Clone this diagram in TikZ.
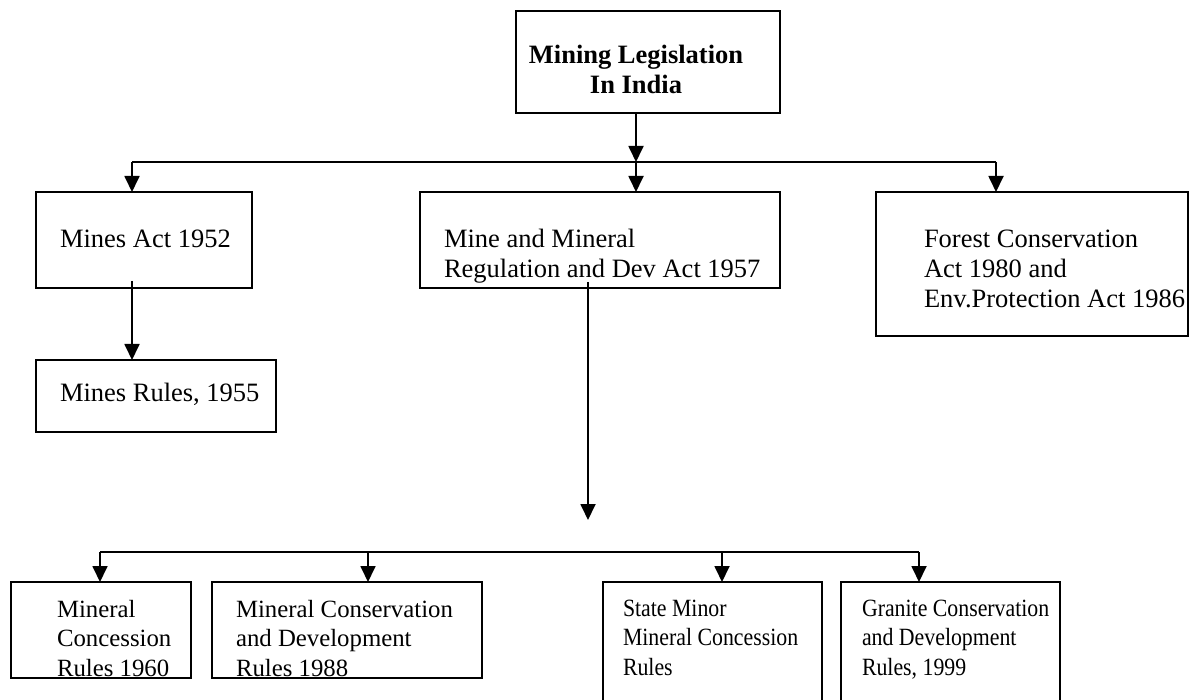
\documentclass[tikz,border=0pt]{standalone}
\usepackage{fontspec}
\setmainfont{Liberation Serif}
\newfontfamily\narrowfont[FakeStretch=0.88]{Liberation Serif}
\usetikzlibrary{arrows.meta}
\begin{document}
\begin{tikzpicture}[x=1pt,y=-1pt,
  box/.style={draw=black,line width=1.8pt,inner sep=0pt,outer sep=0pt,anchor=north west},
  txt/.style={inner sep=0pt,outer sep=0pt,anchor=base west,align=left,font=\fontsize{26.5}{30}\selectfont},
  txtsmall/.style={txt,font=\fontsize{24.8}{29.5}\selectfont},
  txtnarrow/.style={txt,font=\narrowfont\fontsize{24.8}{29.5}\selectfont},
  conn/.style={line width=1.8pt},
  arr/.style={line width=1.8pt,-{Triangle[length=16pt,width=15pt]}}]
\useasboundingbox (0,0) rectangle (1191,700);
% boxes
\node[box,minimum width=264pt,minimum height=102pt] (top) at (516,11) {};
\node[box,minimum width=216pt,minimum height=96pt] (mines) at (36,192) {};
\node[box,minimum width=360pt,minimum height=96pt] (mmrd) at (420,192) {};
\node[box,minimum width=312pt,minimum height=144pt] (forest) at (876,192) {};
\node[box,minimum width=240pt,minimum height=72pt] (rules) at (36,360) {};
\node[box,minimum width=180pt,minimum height=96pt] (mc) at (11,582) {};
\node[box,minimum width=270pt,minimum height=96pt] (mcd) at (212,582) {};
\node[box,minimum width=219pt,minimum height=140pt] (sm) at (603,582) {};
\node[box,minimum width=219pt,minimum height=140pt] (gc) at (841,582) {};
% texts (base anchor = baseline of the last line)
\node[txt,anchor=base,align=center,font=\fontsize{26.5}{30}\selectfont\bfseries] (ttop) at (636,94) {Mining Legislation\\In India};
\node[txt] (tmines) at (60,248) {Mines Act 1952};
\node[txt] (tmmrd) at (444,278) {Mine and Mineral\\Regulation and Dev Act 1957};
\node[txt] (tforest) at (924,308) {Forest Conservation\\Act 1980 and\\Env.Protection Act 1986};
\node[txt] (trules) at (60,401) {Mines Rules, 1955};
\node[txtsmall] (tmc) at (57,676) {Mineral\\Concession\\Rules 1960};
\node[txtsmall] (tmcd) at (236,676) {Mineral Conservation\\and Development\\Rules 1988};
\node[txtnarrow] (tsm) at (623,675) {State Minor\\Mineral Concession\\Rules};
\node[txtnarrow] (tgc) at (862,675) {Granite Conservation\\and Development\\Rules, 1999};
% coordinates
\coordinate (j1) at (636,162);
\coordinate (l1) at (132,162);
\coordinate (r1) at (996,162);
\coordinate (m1) at (636,162);
\coordinate (minesout) at (132,281);
\coordinate (mmrdout) at (588,282);
\coordinate (hub) at (588,520);
\coordinate (l2) at (100,552);
\coordinate (b2) at (368,552);
\coordinate (b3) at (722,552);
\coordinate (r2) at (919,552);
% connectors
\draw[arr] (top.south -| j1) -- (j1);
\draw[conn] (l1) -- (r1);
\draw[arr] (l1) -- (l1 |- mines.north);
\draw[arr] (m1) -- (m1 |- mmrd.north);
\draw[arr] (r1) -- (r1 |- forest.north);
\draw[arr] (minesout) -- (minesout |- rules.north);
\draw[arr] (mmrdout) -- (hub);
\draw[conn] (l2) -- (r2);
\draw[arr] (l2) -- (l2 |- mc.north);
\draw[arr] (b2) -- (b2 |- mcd.north);
\draw[arr] (b3) -- (b3 |- sm.north);
\draw[arr] (r2) -- (r2 |- gc.north);
\end{tikzpicture}
\end{document}
